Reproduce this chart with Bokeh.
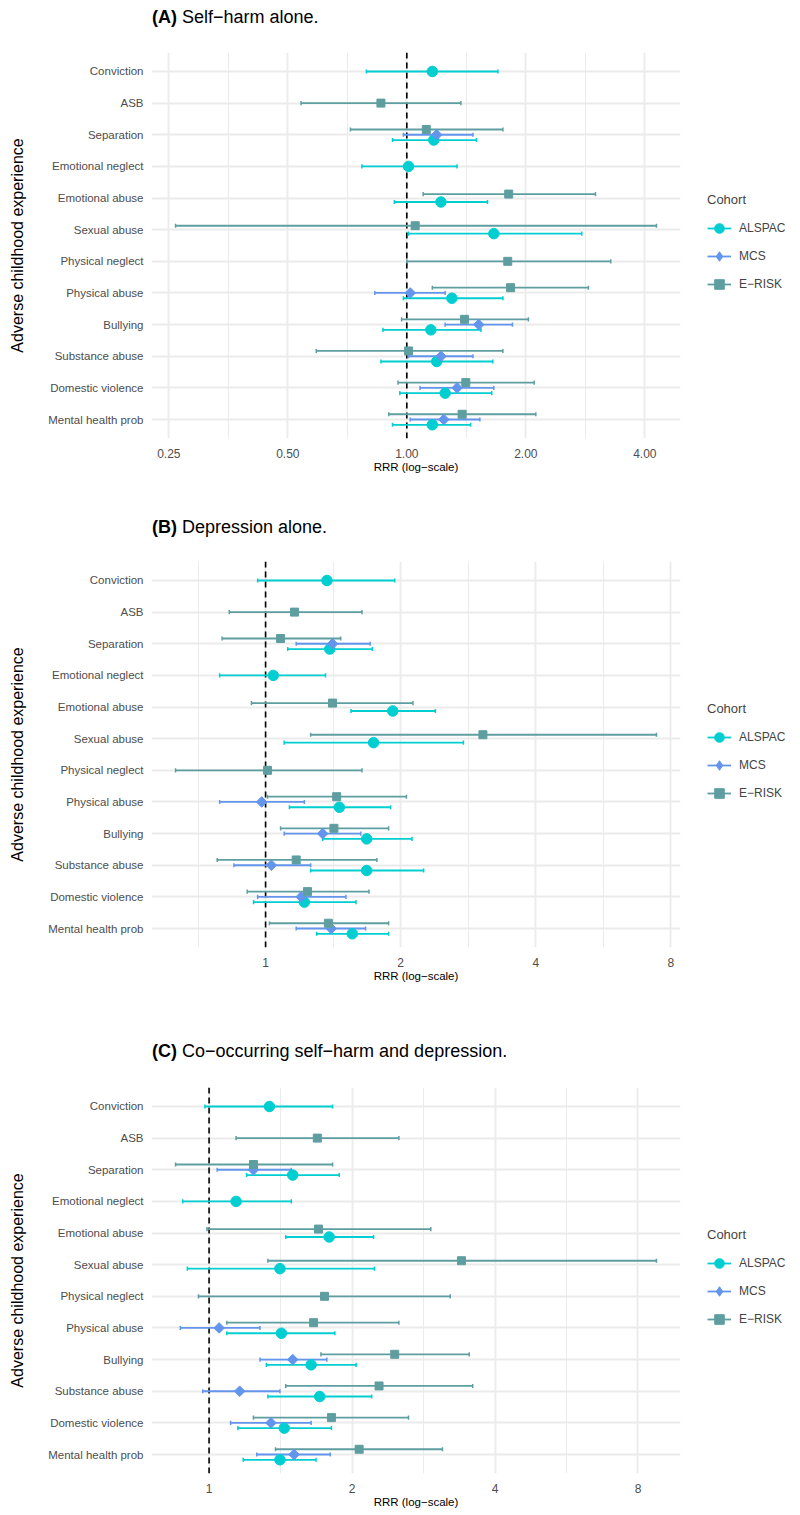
import math
from bokeh.plotting import figure
from bokeh.models import (ColumnDataSource, FixedTicker, Span, Legend,
                          LegendItem, Range1d, Div)
from bokeh.layouts import column
from bokeh.embed import file_html
from bokeh.resources import INLINE

FONT = "Liberation Sans"

# ---------------- data ----------------
categories = ["Conviction", "ASB", "Separation", "Emotional neglect",
              "Emotional abuse", "Sexual abuse", "Physical neglect",
              "Physical abuse", "Bullying", "Substance abuse",
              "Domestic violence", "Mental health prob"]
cohorts = ["ALSPAC", "MCS", "E\u2212RISK"]
cohort_colors = ["#00CED1", "#6495ED", "#5F9EA0"]

N = None
# Panel A: Self-harm alone
a_alspac_est = [1.16, N, 1.17, 1.01, 1.22, 1.66, N, 1.30, 1.15, 1.19, 1.25, 1.16]
a_alspac_lo  = [0.79, N, 0.92, 0.77, 0.93, 1.01, N, 0.98, 0.87, 0.86, 0.96, 0.92]
a_alspac_hi  = [1.70, N, 1.50, 1.34, 1.60, 2.77, N, 1.75, 1.54, 1.65, 1.64, 1.45]
a_mcs_est    = [N, N, 1.19, N, N, N, N, 1.02, 1.52, 1.22, 1.34, 1.24]
a_mcs_lo     = [N, N, 0.98, N, N, N, N, 0.83, 1.25, 1.01, 1.08, 1.02]
a_mcs_hi     = [N, N, 1.47, N, N, N, N, 1.25, 1.85, 1.47, 1.66, 1.53]
a_erisk_est  = [N, 0.86, 1.12, N, 1.81, 1.05, 1.80, 1.83, 1.40, 1.01, 1.41, 1.38]
a_erisk_lo   = [N, 0.54, 0.72, N, 1.10, 0.26, 1.00, 1.16, 0.97, 0.59, 0.95, 0.90]
a_erisk_hi   = [N, 1.37, 1.75, N, 3.00, 4.28, 3.28, 2.88, 2.03, 1.75, 2.10, 2.12]

# Panel B: Depression alone
b_alspac_est = [1.37, N, 1.39, 1.04, 1.92, 1.74, N, 1.46, 1.68, 1.68, 1.22, 1.56]
b_alspac_lo  = [0.96, N, 1.12, 0.79, 1.55, 1.10, N, 1.13, 1.34, 1.26, 0.94, 1.30]
b_alspac_hi  = [1.94, N, 1.73, 1.36, 2.39, 2.76, N, 1.90, 2.12, 2.25, 1.59, 1.88]
b_mcs_est    = [N, N, 1.41, N, N, N, N, 0.98, 1.34, 1.03, 1.20, 1.40]
b_mcs_lo     = [N, N, 1.17, N, N, N, N, 0.79, 1.10, 0.85, 0.96, 1.17]
b_mcs_hi     = [N, N, 1.71, N, N, N, N, 1.22, 1.63, 1.26, 1.51, 1.67]
b_erisk_est  = [N, 1.16, 1.08, N, 1.41, 3.05, 1.01, 1.44, 1.42, 1.17, 1.24, 1.38]
b_erisk_lo   = [N, 0.83, 0.80, N, 0.93, 1.26, 0.63, 1.01, 1.08, 0.78, 0.91, 1.02]
b_erisk_hi   = [N, 1.64, 1.47, N, 2.13, 7.43, 1.64, 2.06, 1.88, 1.77, 1.70, 1.88]

# Panel C: Co-occurring self-harm and depression
c_alspac_est = [1.34, N, 1.50, 1.14, 1.79, 1.41, N, 1.42, 1.64, 1.71, 1.44, 1.41]
c_alspac_lo  = [0.98, N, 1.20, 0.88, 1.45, 0.90, N, 1.09, 1.32, 1.33, 1.15, 1.18]
c_alspac_hi  = [1.82, N, 1.88, 1.49, 2.22, 2.23, N, 1.84, 2.04, 2.20, 1.81, 1.68]
c_mcs_est    = [N, N, 1.24, N, N, N, N, 1.05, 1.50, 1.16, 1.35, 1.51]
c_mcs_lo     = [N, N, 1.04, N, N, N, N, 0.87, 1.28, 0.97, 1.11, 1.26]
c_mcs_hi     = [N, N, 1.49, N, N, N, N, 1.28, 1.77, 1.41, 1.64, 1.80]
c_erisk_est  = [N, 1.69, 1.24, N, 1.70, 3.40, 1.75, 1.66, 2.46, 2.28, 1.81, 2.07]
c_erisk_lo   = [N, 1.14, 0.85, N, 0.99, 1.33, 0.95, 1.09, 1.72, 1.45, 1.24, 1.38]
c_erisk_hi   = [N, 2.51, 1.82, N, 2.93, 8.75, 3.22, 2.51, 3.53, 3.59, 2.63, 3.10]

panel_tags = ["(A)", "(B)", "(C)"]
panel_titles = ["Self\u2212harm alone.", "Depression alone.",
                "Co\u2212occurring self\u2212harm and depression."]
a_ticks = [0.25, 0.5, 1, 2, 4]
a_tick_labels = ["0.25", "0.50", "1.00", "2.00", "4.00"]
bc_ticks = [1, 2, 4, 8]
bc_tick_labels = ["1", "2", "4", "8"]

x_title = "RRR (log\u2212scale)"
y_title = "Adverse childhood experience"
legend_title = "Cohort"

FRAME_W, FRAME_H = 529, 386
DODGE = 0.5


def title_div(tag, title, pad_top):
    html = ('<div style="font-family:\'Liberation Sans\',Arial,sans-serif;'
            'font-size:18px;line-height:22px;color:#000;white-space:nowrap;'
            'padding-left:152px;padding-top:%dpx;margin:0;">'
            '<b>%s</b> %s</div>' % (pad_top, tag, title))
    return Div(text=html, width=800, height=34, margin=0)


def make_panel(series, ticks, tick_labels, bottom):
    ncat = len(categories)
    vals = [v for s in series for arr in (s[1], s[2]) for v in arr if v is not None]
    l0, l1 = math.log2(min(vals)), math.log2(max(vals))
    ex = 0.05 * (l1 - l0)
    xr = Range1d(2 ** (l0 - ex), 2 ** (l1 + ex))

    p = figure(frame_width=FRAME_W, frame_height=FRAME_H,
               x_axis_type="log", x_range=xr,
               y_range=Range1d(0.4, ncat + 0.6), output_backend="svg",
               toolbar_location=None, min_border_left=151,
               min_border_right=120, min_border_top=18,
               min_border_bottom=bottom)
    p.outline_line_color = None
    p.background_fill_color = "white"
    p.border_fill_color = "white"

    # ticks / grid
    minors = [math.sqrt(ticks[i] * ticks[i + 1]) for i in range(len(ticks) - 1)]
    minors = [ticks[0] / math.sqrt(2)] + minors + [ticks[-1] * math.sqrt(2)]
    p.xaxis.ticker = FixedTicker(ticks=ticks, minor_ticks=minors)
    p.xaxis.major_label_overrides = {t: l for t, l in zip(ticks, tick_labels)}
    p.yaxis.ticker = FixedTicker(ticks=list(range(1, ncat + 1)))
    p.yaxis.major_label_overrides = {ncat - i: c for i, c in enumerate(categories)}
    for ax in (p.xaxis[0], p.yaxis[0]):
        ax.axis_line_color = None
        ax.major_tick_line_color = None
        ax.minor_tick_line_color = None
        ax.major_tick_out = 0
        ax.major_tick_in = 0
        ax.major_label_text_font = FONT
        ax.major_label_text_color = "#4D4D4D"
        ax.axis_label_text_font = FONT
        ax.axis_label_text_font_style = "normal"
        ax.axis_label_text_color = "black"
    p.xaxis.major_label_standoff = 6
    p.yaxis.major_label_standoff = 8
    p.xaxis.major_label_text_font_size = "12px"
    p.yaxis.major_label_text_font_size = "11.5px"
    p.xaxis.axis_label = x_title
    p.xaxis.axis_label_text_font_size = "11.5px"
    p.xaxis.axis_label_standoff = 0
    p.yaxis.axis_label = y_title
    p.yaxis.axis_label_text_font_size = "16px"
    p.yaxis.axis_label_standoff = 19

    p.xgrid.grid_line_color = "#EBEBEB"
    p.xgrid.grid_line_width = 1.8
    p.xgrid.minor_grid_line_color = "#EBEBEB"
    p.xgrid.minor_grid_line_width = 1
    p.ygrid.grid_line_color = "#EBEBEB"
    p.ygrid.grid_line_width = 2

    p.add_layout(Span(location=1, dimension="height", line_color="black",
                      line_width=1.6, line_dash="6 4", level="underlay"))

    # dodge positions
    present = [[s[0][i] is not None for s in series] for i in range(ncat)]
    legend_items = []
    point_specs = []
    for k, (est, lo, hi) in enumerate(series):
        ys, es, los, his = [], [], [], []
        for i in range(ncat):
            if est[i] is None:
                continue
            grp = [j for j in range(len(series)) if present[i][j]]
            n = len(grp)
            pos = grp.index(k)
            off = -DODGE / 2 + DODGE / (2 * n) + pos * DODGE / n
            ys.append(ncat - i + off)
            es.append(est[i]); los.append(lo[i]); his.append(hi[i])
        src = ColumnDataSource(dict(y=ys, est=es, lo=los, hi=his,
                                    yb=[y - 0.065 for y in ys],
                                    yt=[y + 0.065 for y in ys]))
        col = cohort_colors[k]
        seg = p.segment(x0="lo", y0="y", x1="hi", y1="y", source=src,
                        line_color=col, line_width=1.8)
        p.segment(x0="lo", y0="yb", x1="lo", y1="yt", source=src,
                  line_color=col, line_width=1.5)
        p.segment(x0="hi", y0="yb", x1="hi", y1="yt", source=src,
                  line_color=col, line_width=1.5)
        point_specs.append((k, src, col, seg))
    for k, src, col, seg in point_specs:
        if k == 0:
            sc = p.scatter(x="est", y="y", source=src, marker="circle",
                           size=10.5, fill_color=col, line_color=col)
            leg_r = [seg, sc]
        elif k == 1:
            sc = p.scatter(x="est", y="y", source=src, marker="square",
                           angle=math.pi / 4, size=7.5, fill_color=col,
                           line_color=col)
            key_src = ColumnDataSource(dict(x=[float("nan")], y=[float("nan")]))
            key = p.scatter(x="x", y="y", source=key_src, marker="diamond",
                            size=12, fill_color=col, line_color=col)
            leg_r = [seg, key]
        else:
            sc = p.scatter(x="est", y="y", source=src, marker="square",
                           size=8, fill_color=col, line_color=col)
            leg_r = [seg, sc]
        legend_items.append(LegendItem(label=cohorts[k], renderers=leg_r))

    legend = Legend(items=legend_items, title=legend_title,
                    location=(27, 142), margin=0, padding=0,
                    border_line_color=None, background_fill_alpha=0,
                    title_text_font=FONT, title_text_font_size="13px",
                    title_text_font_style="normal", title_standoff=9,
                    label_text_font=FONT, label_text_font_size="12px",
                    glyph_width=24, glyph_height=24, label_height=20,
                    label_standoff=8, spacing=4)
    p.add_layout(legend, "right")
    return p


pa = make_panel([(a_alspac_est, a_alspac_lo, a_alspac_hi),
                 (a_mcs_est, a_mcs_lo, a_mcs_hi),
                 (a_erisk_est, a_erisk_lo, a_erisk_hi)],
                a_ticks, a_tick_labels, 71)
pb = make_panel([(b_alspac_est, b_alspac_lo, b_alspac_hi),
                 (b_mcs_est, b_mcs_lo, b_mcs_hi),
                 (b_erisk_est, b_erisk_lo, b_erisk_hi)],
                bc_ticks, bc_tick_labels, 88)
pc = make_panel([(c_alspac_est, c_alspac_lo, c_alspac_hi),
                 (c_mcs_est, c_mcs_lo, c_mcs_hi),
                 (c_erisk_est, c_erisk_lo, c_erisk_hi)],
                bc_ticks, bc_tick_labels, 42)

layout = column(title_div(panel_tags[0], panel_titles[0], 6), pa,
                title_div(panel_tags[1], panel_titles[1], 7), pb,
                title_div(panel_tags[2], panel_titles[2], 5), pc,
                spacing=0)
open("out.html", "w").write(file_html(layout, INLINE))
